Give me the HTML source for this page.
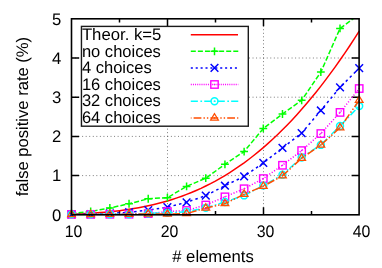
<!DOCTYPE html>
<html><head><meta charset="utf-8"><title>plot</title><style>html,body{margin:0;padding:0;background:#fff}body{width:382px;height:268px;overflow:hidden}</style></head><body>
<svg width="382" height="268" viewBox="0 0 382 268" style="display:block;will-change:transform;font-family:'Liberation Sans',sans-serif;font-size:16.7px;text-rendering:geometricPrecision">
<rect width="382" height="268" fill="#fff"/>
<path d="M71.5 175.60H359.1M71.5 136.40H359.1M71.5 97.20H359.1M71.5 58.00H359.1M167.50 214.8V18.8M263.50 214.8V18.8" stroke="#000" stroke-width="0.8" stroke-dasharray="0.95 2.6" opacity="0.68" fill="none"/>
<path d="M71.5 175.60h7.5M359.1 175.60h-7.5M71.5 136.40h7.5M359.1 136.40h-7.5M71.5 97.20h7.5M359.1 97.20h-7.5M71.5 58.00h7.5M359.1 58.00h-7.5M167.50 214.8v-7.5M167.50 18.8v7.5M263.50 214.8v-7.5M263.50 18.8v7.5M119.50 214.8v-3.8M119.50 18.8v3.8M215.50 214.8v-3.8M215.50 18.8v3.8M311.50 214.8v-3.8M311.50 18.8v3.8" stroke="#000" stroke-width="1.5" fill="none"/>
<clipPath id="c"><rect x="71.5" y="18.8" width="291.7" height="196.0"/></clipPath>
<polyline points="71.50,214.11 76.30,213.94 81.09,213.74 85.88,213.51 90.68,213.24 95.47,212.93 100.27,212.58 105.06,212.18 109.86,211.73 114.66,211.22 119.45,210.66 124.25,210.03 129.04,209.34 133.84,208.58 138.63,207.74 143.43,206.83 148.22,205.83 153.01,204.75 157.81,203.57 162.61,202.31 167.40,200.94 172.19,199.47 176.99,197.90 181.78,196.22 186.58,194.42 191.38,192.51 196.17,190.47 200.97,188.32 205.76,186.03 210.55,183.62 215.35,181.07 220.14,178.38 224.94,175.56 229.74,172.59 234.53,169.48 239.32,166.22 244.12,162.81 248.91,159.24 253.71,155.52 258.50,151.64 263.30,147.60 268.09,143.40 272.89,139.04 277.69,134.51 282.48,129.82 287.27,124.95 292.07,119.92 296.87,114.72 301.66,109.34 306.45,103.79 311.25,98.07 316.04,92.17 320.84,86.10 325.63,79.85 330.43,73.42 335.23,66.82 340.02,60.04 344.81,53.09 349.61,45.96 354.40,38.65 359.20,31.17" stroke="#ff0000" stroke-width="1.5" fill="none" clip-path="url(#c)"/>
<polyline points="71.50,213.43 90.68,211.47 109.86,207.94 129.04,203.76 148.22,198.74 167.40,197.65 186.58,186.41 205.76,178.19 224.94,164.29 244.12,151.57 263.30,128.47 282.48,113.98 301.66,100.28 320.84,72.09 340.02,28.44 359.20,14.15" stroke="#00ff00" stroke-width="1.5" stroke-dasharray="5 2.08" fill="none" clip-path="url(#c)"/>
<path d="M67.60 213.43H75.40M71.50 209.53V217.33" stroke="#00ff00" stroke-width="1.5" fill="none"/>
<path d="M86.78 211.47H94.58M90.68 207.57V215.37" stroke="#00ff00" stroke-width="1.5" fill="none"/>
<path d="M105.96 207.94H113.76M109.86 204.04V211.84" stroke="#00ff00" stroke-width="1.5" fill="none"/>
<path d="M125.14 203.76H132.94M129.04 199.86V207.66" stroke="#00ff00" stroke-width="1.5" fill="none"/>
<path d="M144.32 198.74H152.12M148.22 194.84V202.64" stroke="#00ff00" stroke-width="1.5" fill="none"/>
<path d="M163.50 197.65H171.30M167.40 193.75V201.55" stroke="#00ff00" stroke-width="1.5" fill="none"/>
<path d="M182.68 186.41H190.48M186.58 182.51V190.31" stroke="#00ff00" stroke-width="1.5" fill="none"/>
<path d="M201.86 178.19H209.66M205.76 174.29V182.09" stroke="#00ff00" stroke-width="1.5" fill="none"/>
<path d="M221.04 164.29H228.84M224.94 160.39V168.19" stroke="#00ff00" stroke-width="1.5" fill="none"/>
<path d="M240.22 151.57H248.02M244.12 147.67V155.47" stroke="#00ff00" stroke-width="1.5" fill="none"/>
<path d="M259.40 128.47H267.20M263.30 124.57V132.37" stroke="#00ff00" stroke-width="1.5" fill="none"/>
<path d="M278.58 113.98H286.38M282.48 110.08V117.88" stroke="#00ff00" stroke-width="1.5" fill="none"/>
<path d="M297.76 100.28H305.56M301.66 96.38V104.18" stroke="#00ff00" stroke-width="1.5" fill="none"/>
<path d="M316.94 72.09H324.74M320.84 68.19V75.99" stroke="#00ff00" stroke-width="1.5" fill="none"/>
<path d="M336.12 28.44H343.92M340.02 24.54V32.34" stroke="#00ff00" stroke-width="1.5" fill="none"/>
<polyline points="71.50,214.40 90.68,214.21 109.86,213.43 129.04,212.25 148.22,210.10 167.40,207.16 186.58,202.35 205.76,195.61 224.94,185.71 244.12,176.43 263.30,162.92 282.48,147.93 301.66,133.17 320.84,110.46 340.02,87.36 359.20,68.18" stroke="#0000ff" stroke-width="1.5" stroke-dasharray="2.5 3.2" fill="none" clip-path="url(#c)"/>
<path d="M67.65 210.55L75.35 218.25M67.65 218.25L75.35 210.55" stroke="#0000ff" stroke-width="1.5" fill="none"/>
<path d="M86.83 210.36L94.53 218.06M86.83 218.06L94.53 210.36" stroke="#0000ff" stroke-width="1.5" fill="none"/>
<path d="M106.01 209.58L113.71 217.28M106.01 217.28L113.71 209.58" stroke="#0000ff" stroke-width="1.5" fill="none"/>
<path d="M125.19 208.40L132.89 216.10M125.19 216.10L132.89 208.40" stroke="#0000ff" stroke-width="1.5" fill="none"/>
<path d="M144.37 206.25L152.07 213.95M144.37 213.95L152.07 206.25" stroke="#0000ff" stroke-width="1.5" fill="none"/>
<path d="M163.55 203.31L171.25 211.01M163.55 211.01L171.25 203.31" stroke="#0000ff" stroke-width="1.5" fill="none"/>
<path d="M182.73 198.50L190.43 206.20M182.73 206.20L190.43 198.50" stroke="#0000ff" stroke-width="1.5" fill="none"/>
<path d="M201.91 191.76L209.61 199.46M201.91 199.46L209.61 191.76" stroke="#0000ff" stroke-width="1.5" fill="none"/>
<path d="M221.09 181.86L228.79 189.56M221.09 189.56L228.79 181.86" stroke="#0000ff" stroke-width="1.5" fill="none"/>
<path d="M240.27 172.58L247.97 180.28M240.27 180.28L247.97 172.58" stroke="#0000ff" stroke-width="1.5" fill="none"/>
<path d="M259.45 159.07L267.15 166.77M259.45 166.77L267.15 159.07" stroke="#0000ff" stroke-width="1.5" fill="none"/>
<path d="M278.63 144.08L286.33 151.78M278.63 151.78L286.33 144.08" stroke="#0000ff" stroke-width="1.5" fill="none"/>
<path d="M297.81 129.32L305.51 137.02M297.81 137.02L305.51 129.32" stroke="#0000ff" stroke-width="1.5" fill="none"/>
<path d="M316.99 106.61L324.69 114.31M316.99 114.31L324.69 106.61" stroke="#0000ff" stroke-width="1.5" fill="none"/>
<path d="M336.17 83.51L343.87 91.21M336.17 91.21L343.87 83.51" stroke="#0000ff" stroke-width="1.5" fill="none"/>
<path d="M355.35 64.33L363.05 72.03M355.35 72.03L363.05 64.33" stroke="#0000ff" stroke-width="1.5" fill="none"/>
<polyline points="71.50,214.40 90.68,214.40 109.86,214.29 129.04,214.21 148.22,213.62 167.40,211.59 186.58,210.49 205.76,205.01 224.94,196.83 244.12,188.76 263.30,178.58 282.48,165.27 301.66,150.59 320.84,133.56 340.02,112.42 359.20,88.54" stroke="#ff00ff" stroke-width="1.5" stroke-dasharray="1.15 1.75" fill="none" clip-path="url(#c)"/>
<rect x="67.80" y="210.70" width="7.40" height="7.40" stroke="#ff00ff" stroke-width="1.4" fill="none"/><circle cx="71.50" cy="214.40" r="0.8" fill="#ff00ff"/>
<rect x="86.98" y="210.70" width="7.40" height="7.40" stroke="#ff00ff" stroke-width="1.4" fill="none"/><circle cx="90.68" cy="214.40" r="0.8" fill="#ff00ff"/>
<rect x="106.16" y="210.59" width="7.40" height="7.40" stroke="#ff00ff" stroke-width="1.4" fill="none"/><circle cx="109.86" cy="214.29" r="0.8" fill="#ff00ff"/>
<rect x="125.34" y="210.51" width="7.40" height="7.40" stroke="#ff00ff" stroke-width="1.4" fill="none"/><circle cx="129.04" cy="214.21" r="0.8" fill="#ff00ff"/>
<rect x="144.52" y="209.92" width="7.40" height="7.40" stroke="#ff00ff" stroke-width="1.4" fill="none"/><circle cx="148.22" cy="213.62" r="0.8" fill="#ff00ff"/>
<rect x="163.70" y="207.89" width="7.40" height="7.40" stroke="#ff00ff" stroke-width="1.4" fill="none"/><circle cx="167.40" cy="211.59" r="0.8" fill="#ff00ff"/>
<rect x="182.88" y="206.79" width="7.40" height="7.40" stroke="#ff00ff" stroke-width="1.4" fill="none"/><circle cx="186.58" cy="210.49" r="0.8" fill="#ff00ff"/>
<rect x="202.06" y="201.31" width="7.40" height="7.40" stroke="#ff00ff" stroke-width="1.4" fill="none"/><circle cx="205.76" cy="205.01" r="0.8" fill="#ff00ff"/>
<rect x="221.24" y="193.13" width="7.40" height="7.40" stroke="#ff00ff" stroke-width="1.4" fill="none"/><circle cx="224.94" cy="196.83" r="0.8" fill="#ff00ff"/>
<rect x="240.42" y="185.06" width="7.40" height="7.40" stroke="#ff00ff" stroke-width="1.4" fill="none"/><circle cx="244.12" cy="188.76" r="0.8" fill="#ff00ff"/>
<rect x="259.60" y="174.88" width="7.40" height="7.40" stroke="#ff00ff" stroke-width="1.4" fill="none"/><circle cx="263.30" cy="178.58" r="0.8" fill="#ff00ff"/>
<rect x="278.78" y="161.57" width="7.40" height="7.40" stroke="#ff00ff" stroke-width="1.4" fill="none"/><circle cx="282.48" cy="165.27" r="0.8" fill="#ff00ff"/>
<rect x="297.96" y="146.89" width="7.40" height="7.40" stroke="#ff00ff" stroke-width="1.4" fill="none"/><circle cx="301.66" cy="150.59" r="0.8" fill="#ff00ff"/>
<rect x="317.14" y="129.86" width="7.40" height="7.40" stroke="#ff00ff" stroke-width="1.4" fill="none"/><circle cx="320.84" cy="133.56" r="0.8" fill="#ff00ff"/>
<rect x="336.32" y="108.72" width="7.40" height="7.40" stroke="#ff00ff" stroke-width="1.4" fill="none"/><circle cx="340.02" cy="112.42" r="0.8" fill="#ff00ff"/>
<rect x="355.50" y="84.84" width="7.40" height="7.40" stroke="#ff00ff" stroke-width="1.4" fill="none"/><circle cx="359.20" cy="88.54" r="0.8" fill="#ff00ff"/>
<polyline points="71.50,214.40 90.68,214.40 109.86,214.29 129.04,214.21 148.22,213.43 167.40,212.84 186.58,211.74 205.76,207.83 224.94,202.07 244.12,195.42 263.30,185.63 282.48,174.67 301.66,157.44 320.84,144.91 340.02,125.93 359.20,106.08" stroke="#00ffff" stroke-width="1.5" stroke-dasharray="7.1 2.5 1.7 2.15" fill="none" clip-path="url(#c)"/>
<circle cx="71.50" cy="214.40" r="3.45" stroke="#00ffff" stroke-width="1.5" fill="none"/><circle cx="71.50" cy="214.40" r="0.8" fill="#00ffff"/>
<circle cx="90.68" cy="214.40" r="3.45" stroke="#00ffff" stroke-width="1.5" fill="none"/><circle cx="90.68" cy="214.40" r="0.8" fill="#00ffff"/>
<circle cx="109.86" cy="214.29" r="3.45" stroke="#00ffff" stroke-width="1.5" fill="none"/><circle cx="109.86" cy="214.29" r="0.8" fill="#00ffff"/>
<circle cx="129.04" cy="214.21" r="3.45" stroke="#00ffff" stroke-width="1.5" fill="none"/><circle cx="129.04" cy="214.21" r="0.8" fill="#00ffff"/>
<circle cx="148.22" cy="213.43" r="3.45" stroke="#00ffff" stroke-width="1.5" fill="none"/><circle cx="148.22" cy="213.43" r="0.8" fill="#00ffff"/>
<circle cx="167.40" cy="212.84" r="3.45" stroke="#00ffff" stroke-width="1.5" fill="none"/><circle cx="167.40" cy="212.84" r="0.8" fill="#00ffff"/>
<circle cx="186.58" cy="211.74" r="3.45" stroke="#00ffff" stroke-width="1.5" fill="none"/><circle cx="186.58" cy="211.74" r="0.8" fill="#00ffff"/>
<circle cx="205.76" cy="207.83" r="3.45" stroke="#00ffff" stroke-width="1.5" fill="none"/><circle cx="205.76" cy="207.83" r="0.8" fill="#00ffff"/>
<circle cx="224.94" cy="202.07" r="3.45" stroke="#00ffff" stroke-width="1.5" fill="none"/><circle cx="224.94" cy="202.07" r="0.8" fill="#00ffff"/>
<circle cx="244.12" cy="195.42" r="3.45" stroke="#00ffff" stroke-width="1.5" fill="none"/><circle cx="244.12" cy="195.42" r="0.8" fill="#00ffff"/>
<circle cx="263.30" cy="185.63" r="3.45" stroke="#00ffff" stroke-width="1.5" fill="none"/><circle cx="263.30" cy="185.63" r="0.8" fill="#00ffff"/>
<circle cx="282.48" cy="174.67" r="3.45" stroke="#00ffff" stroke-width="1.5" fill="none"/><circle cx="282.48" cy="174.67" r="0.8" fill="#00ffff"/>
<circle cx="301.66" cy="157.44" r="3.45" stroke="#00ffff" stroke-width="1.5" fill="none"/><circle cx="301.66" cy="157.44" r="0.8" fill="#00ffff"/>
<circle cx="320.84" cy="144.91" r="3.45" stroke="#00ffff" stroke-width="1.5" fill="none"/><circle cx="320.84" cy="144.91" r="0.8" fill="#00ffff"/>
<circle cx="340.02" cy="125.93" r="3.45" stroke="#00ffff" stroke-width="1.5" fill="none"/><circle cx="340.02" cy="125.93" r="0.8" fill="#00ffff"/>
<circle cx="359.20" cy="106.08" r="3.45" stroke="#00ffff" stroke-width="1.5" fill="none"/><circle cx="359.20" cy="106.08" r="0.8" fill="#00ffff"/>
<polyline points="71.50,214.40 90.68,214.40 109.86,214.29 129.04,214.21 148.22,213.90 167.40,214.13 186.58,213.58 205.76,208.06 224.94,203.64 244.12,194.24 263.30,186.26 282.48,175.84 301.66,158.22 320.84,145.11 340.02,127.69 359.20,100.28" stroke="#ff4d00" stroke-width="1.5" stroke-dasharray="7.8 2.1 1.4 2.0 1.4 2.1" fill="none" clip-path="url(#c)"/>
<path d="M71.50 210.10L67.65 216.50H75.35Z" stroke="#ff4d00" stroke-width="1.25" fill="none" stroke-linejoin="miter"/><circle cx="71.50" cy="214.40" r="0.8" fill="#ff4d00"/>
<path d="M90.68 210.10L86.83 216.50H94.53Z" stroke="#ff4d00" stroke-width="1.25" fill="none" stroke-linejoin="miter"/><circle cx="90.68" cy="214.40" r="0.8" fill="#ff4d00"/>
<path d="M109.86 209.99L106.01 216.39H113.71Z" stroke="#ff4d00" stroke-width="1.25" fill="none" stroke-linejoin="miter"/><circle cx="109.86" cy="214.29" r="0.8" fill="#ff4d00"/>
<path d="M129.04 209.91L125.19 216.31H132.89Z" stroke="#ff4d00" stroke-width="1.25" fill="none" stroke-linejoin="miter"/><circle cx="129.04" cy="214.21" r="0.8" fill="#ff4d00"/>
<path d="M148.22 209.60L144.37 216.00H152.07Z" stroke="#ff4d00" stroke-width="1.25" fill="none" stroke-linejoin="miter"/><circle cx="148.22" cy="213.90" r="0.8" fill="#ff4d00"/>
<path d="M167.40 209.83L163.55 216.23H171.25Z" stroke="#ff4d00" stroke-width="1.25" fill="none" stroke-linejoin="miter"/><circle cx="167.40" cy="214.13" r="0.8" fill="#ff4d00"/>
<path d="M186.58 209.28L182.73 215.68H190.43Z" stroke="#ff4d00" stroke-width="1.25" fill="none" stroke-linejoin="miter"/><circle cx="186.58" cy="213.58" r="0.8" fill="#ff4d00"/>
<path d="M205.76 203.76L201.91 210.16H209.61Z" stroke="#ff4d00" stroke-width="1.25" fill="none" stroke-linejoin="miter"/><circle cx="205.76" cy="208.06" r="0.8" fill="#ff4d00"/>
<path d="M224.94 199.34L221.09 205.74H228.79Z" stroke="#ff4d00" stroke-width="1.25" fill="none" stroke-linejoin="miter"/><circle cx="224.94" cy="203.64" r="0.8" fill="#ff4d00"/>
<path d="M244.12 189.94L240.27 196.34H247.97Z" stroke="#ff4d00" stroke-width="1.25" fill="none" stroke-linejoin="miter"/><circle cx="244.12" cy="194.24" r="0.8" fill="#ff4d00"/>
<path d="M263.30 181.96L259.45 188.36H267.15Z" stroke="#ff4d00" stroke-width="1.25" fill="none" stroke-linejoin="miter"/><circle cx="263.30" cy="186.26" r="0.8" fill="#ff4d00"/>
<path d="M282.48 171.54L278.63 177.94H286.33Z" stroke="#ff4d00" stroke-width="1.25" fill="none" stroke-linejoin="miter"/><circle cx="282.48" cy="175.84" r="0.8" fill="#ff4d00"/>
<path d="M301.66 153.92L297.81 160.32H305.51Z" stroke="#ff4d00" stroke-width="1.25" fill="none" stroke-linejoin="miter"/><circle cx="301.66" cy="158.22" r="0.8" fill="#ff4d00"/>
<path d="M320.84 140.81L316.99 147.21H324.69Z" stroke="#ff4d00" stroke-width="1.25" fill="none" stroke-linejoin="miter"/><circle cx="320.84" cy="145.11" r="0.8" fill="#ff4d00"/>
<path d="M340.02 123.39L336.17 129.79H343.87Z" stroke="#ff4d00" stroke-width="1.25" fill="none" stroke-linejoin="miter"/><circle cx="340.02" cy="127.69" r="0.8" fill="#ff4d00"/>
<path d="M359.20 95.98L355.35 102.38H363.05Z" stroke="#ff4d00" stroke-width="1.25" fill="none" stroke-linejoin="miter"/><circle cx="359.20" cy="100.28" r="0.8" fill="#ff4d00"/>
<rect x="71.5" y="18.8" width="287.6" height="196.0" stroke="#000" stroke-width="1.6" fill="none"/>
<rect x="81.45" y="26.4" width="166.85000000000002" height="99.80000000000001" stroke="#1a1a1a" stroke-width="1.4" fill="#fff"/>
<text transform="translate(81.90,40.10) scale(1.002,1)" text-anchor="start">Theor. k=5</text>
<text transform="translate(81.90,56.60) scale(0.99,1)" text-anchor="start">no choices</text>
<text transform="translate(81.90,73.10) scale(0.99,1)" text-anchor="start">4 choices</text>
<text transform="translate(81.90,89.60) scale(0.99,1)" text-anchor="start">16 choices</text>
<text transform="translate(81.90,106.10) scale(0.99,1)" text-anchor="start">32 choices</text>
<text transform="translate(81.90,122.60) scale(0.99,1)" text-anchor="start">64 choices</text>
<path d="M190.8 34.8H238.0" stroke="#ff0000" stroke-width="1.5"/>
<path d="M190.8 51.30H238.3" stroke="#00ff00" stroke-width="1.5" stroke-dasharray="5 2.08" stroke-dashoffset="0"/>
<path d="M210.60 51.30H218.40M214.50 47.40V55.20" stroke="#00ff00" stroke-width="1.5" fill="none"/>
<path d="M190.8 67.90H238.3" stroke="#0000ff" stroke-width="1.5" stroke-dasharray="2.05 2.85" stroke-dashoffset="0"/>
<path d="M210.65 64.05L218.35 71.75M210.65 71.75L218.35 64.05" stroke="#0000ff" stroke-width="1.5" fill="none"/>
<path d="M190.8 84.50H238.3" stroke="#ff00ff" stroke-width="1.5" stroke-dasharray="1.0 1.14" stroke-dashoffset="0"/>
<rect x="210.80" y="80.80" width="7.40" height="7.40" stroke="#ff00ff" stroke-width="1.4" fill="none"/><circle cx="214.50" cy="84.50" r="0.8" fill="#ff00ff"/>
<path d="M190.8 101.30H238.3" stroke="#00ffff" stroke-width="1.5" stroke-dasharray="7.1 2.5 1.7 2.15" stroke-dashoffset="0"/>
<circle cx="214.50" cy="101.30" r="3.45" stroke="#00ffff" stroke-width="1.5" fill="none"/><circle cx="214.50" cy="101.30" r="0.8" fill="#00ffff"/>
<path d="M190.8 117.90H238.3" stroke="#ff4d00" stroke-width="1.5" stroke-dasharray="7.8 2.1 1.4 2.0 1.4 2.1" stroke-dashoffset="14.0"/>
<path d="M214.50 113.60L210.65 120.00H218.35Z" stroke="#ff4d00" stroke-width="1.25" fill="none" stroke-linejoin="miter"/><circle cx="214.50" cy="117.90" r="0.8" fill="#ff4d00"/>
<text transform="translate(61.40,220.55) scale(1.0,1)" text-anchor="end">0</text>
<text transform="translate(61.40,181.35) scale(1.0,1)" text-anchor="end">1</text>
<text transform="translate(61.40,142.15) scale(1.0,1)" text-anchor="end">2</text>
<text transform="translate(61.40,102.95) scale(1.0,1)" text-anchor="end">3</text>
<text transform="translate(61.40,63.75) scale(1.0,1)" text-anchor="end">4</text>
<text transform="translate(61.40,24.55) scale(1.0,1)" text-anchor="end">5</text>
<text transform="translate(73.60,236.80) scale(0.95,1)" text-anchor="middle">10</text>
<text transform="translate(169.60,236.80) scale(0.95,1)" text-anchor="middle">20</text>
<text transform="translate(265.60,236.80) scale(0.95,1)" text-anchor="middle">30</text>
<text transform="translate(361.60,236.80) scale(0.95,1)" text-anchor="middle">40</text>
<text transform="translate(213.00,261.70) scale(1.0,1)" text-anchor="middle"># elements</text>
<text transform="translate(28.40,116.60) rotate(-90) scale(0.994,1)" text-anchor="middle">false positive rate (%)</text>
</svg>
</body></html>
